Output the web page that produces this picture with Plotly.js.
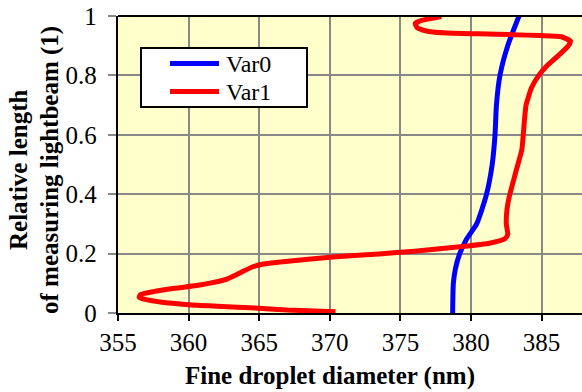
<!DOCTYPE html>
<html>
<head>
<meta charset="utf-8">
<script src="https://cdn.plot.ly/plotly-3.0.1.min.js"></script>
<style>html,body{margin:0;padding:0;background:#fff;}#chart{width:582px;height:392px;}</style>
</head>
<body>
<div id="chart"></div>
<script>
// Series names
const seriesNames = ["Var0", "Var1"];

// Var0 (blue): diameter (nm) vs relative length
const var0Diameter = [378.7, 378.75, 378.9, 379.2, 379.7, 380.4, 381.1, 381.5, 381.7, 381.8, 382.05, 382.6, 383.4];
const var0Length   = [0.0,   0.1,    0.15,  0.2,   0.25,  0.3,   0.4,   0.5,   0.6,   0.7,   0.8,    0.9,   1.0];

// Var1 (red): diameter (nm) vs relative length
const var1Diameter = [370.4, 367, 365, 362, 360, 358, 357, 356.5, 356.6, 357.5, 359, 360.8, 362.6, 363.6, 364.5, 365.3, 366.5, 370, 373.5, 376, 379.2, 381.3, 382.4, 382.6, 382.5, 382.55, 382.7, 383.2, 383.6, 383.7, 383.9, 384.3, 384.8, 385.4, 386.1, 386.9, 387.05, 386.4, 384.9, 383.0, 380.6, 378.3, 377.0, 376.2, 376.05, 376.5, 377.9];
const var1Length   = [0.004, 0.01, 0.016, 0.023, 0.028, 0.037, 0.045, 0.053, 0.062, 0.072, 0.083, 0.094, 0.112, 0.134, 0.155, 0.165, 0.172, 0.188, 0.199, 0.208, 0.223, 0.235, 0.25, 0.265, 0.3, 0.35, 0.39, 0.48, 0.55, 0.6, 0.7, 0.76, 0.8, 0.833, 0.863, 0.9, 0.915, 0.93, 0.934, 0.937, 0.94, 0.943, 0.948, 0.96, 0.975, 0.985, 0.998];

// Axis ticks
const xTicks = [355, 360, 365, 370, 375, 380, 385];
const yTicks = [0, 0.2, 0.4, 0.6, 0.8, 1];

const xTitle = "Fine droplet diameter (nm)";
const yTitle1 = "Relative length";
const yTitle2 = "of measuring lightbeam (1)";

const serif = "Liberation Serif";
const colors = ["#0000ff", "#ff0000"];

const traces = [
  {x: var0Diameter, y: var0Length, name: seriesNames[0], type: "scatter", mode: "lines",
   line: {color: colors[0], width: 5, shape: "spline", smoothing: 0.6}},
  {x: var1Diameter, y: var1Length, name: seriesNames[1], type: "scatter", mode: "lines",
   line: {color: colors[1], width: 5, shape: "spline", smoothing: 0.5}}
];

// pixel helpers for the hand-drawn legend box
const L = 118, T = 16, W = 464, H = 297;
const px = v => (v - L) / W;
const py = v => (T + H - v) / H;

const shapes = [
  {type: "line", xref: "paper", yref: "paper", x0: 0, x1: 1, y0: 1, y1: 1,
   line: {color: "#000000", width: 2}},
  {type: "rect", xref: "paper", yref: "paper", x0: px(141), x1: px(307), y0: py(107), y1: py(48),
   fillcolor: "#ffffff", line: {color: "#000000", width: 2}, layer: "above"}
];
const legendRows = [63.5, 91.5];
seriesNames.forEach((n, i) => {
  shapes.push({type: "line", xref: "paper", yref: "paper", x0: px(170), x1: px(219),
    y0: py(legendRows[i]), y1: py(legendRows[i]),
    line: {color: colors[i], width: 5}, layer: "above"});
});

const annotations = [
  {text: "<b>" + xTitle + "</b>", xref: "paper", yref: "paper", x: px(330), y: py(376),
   xanchor: "center", yanchor: "middle", showarrow: false,
   font: {family: serif, size: 25, color: "#000"}},
  {text: "<b>" + yTitle1 + "</b>", xref: "paper", yref: "paper", x: px(18), y: py(170),
   xanchor: "center", yanchor: "middle", textangle: -90, showarrow: false,
   font: {family: serif, size: 25, color: "#000"}},
  {text: "<b>" + yTitle2 + "</b>", xref: "paper", yref: "paper", x: px(50), y: py(170),
   xanchor: "center", yanchor: "middle", textangle: -90, showarrow: false,
   font: {family: serif, size: 25, color: "#000"}}
];
seriesNames.forEach((n, i) => {
  annotations.push({text: n, xref: "paper", yref: "paper", x: px(224), y: py(legendRows[i]),
    xanchor: "left", yanchor: "middle", showarrow: false,
    font: {family: serif, size: 24, color: "#000"}});
});

const layout = {
  width: 582, height: 392,
  font: {family: serif, size: 25, color: "#000000"},
  margin: {l: L, r: 0, t: T, b: 392 - T - H, pad: 0},
  paper_bgcolor: "#ffffff",
  plot_bgcolor: "#ffffcc",
  showlegend: false,
  xaxis: {
    range: [355, 387.86], tickvals: xTicks, ticktext: xTicks.map(String),
    showgrid: true, gridcolor: "#888888", gridwidth: 2,
    showline: true, linecolor: "#000000", linewidth: 2, mirror: false,
    ticks: "outside", ticklen: 6, tickwidth: 2, tickcolor: "#000000",
    tickfont: {size: 25},
    zeroline: false, fixedrange: true
  },
  yaxis: {
    range: [0, 1], tickvals: yTicks, ticktext: yTicks.map(v => String(v) + "\u2005"),
    showgrid: true, gridcolor: "#888888", gridwidth: 2,
    showline: true, linecolor: "#000000", linewidth: 2,
    ticks: "outside", ticklen: 8, tickwidth: 2, tickcolor: "#888888",
    tickfont: {size: 25},
    zeroline: false, fixedrange: true
  },
  shapes: shapes,
  annotations: annotations
};

Plotly.newPlot("chart", traces, layout, {displayModeBar: false, staticPlot: true});
</script>
</body>
</html>
